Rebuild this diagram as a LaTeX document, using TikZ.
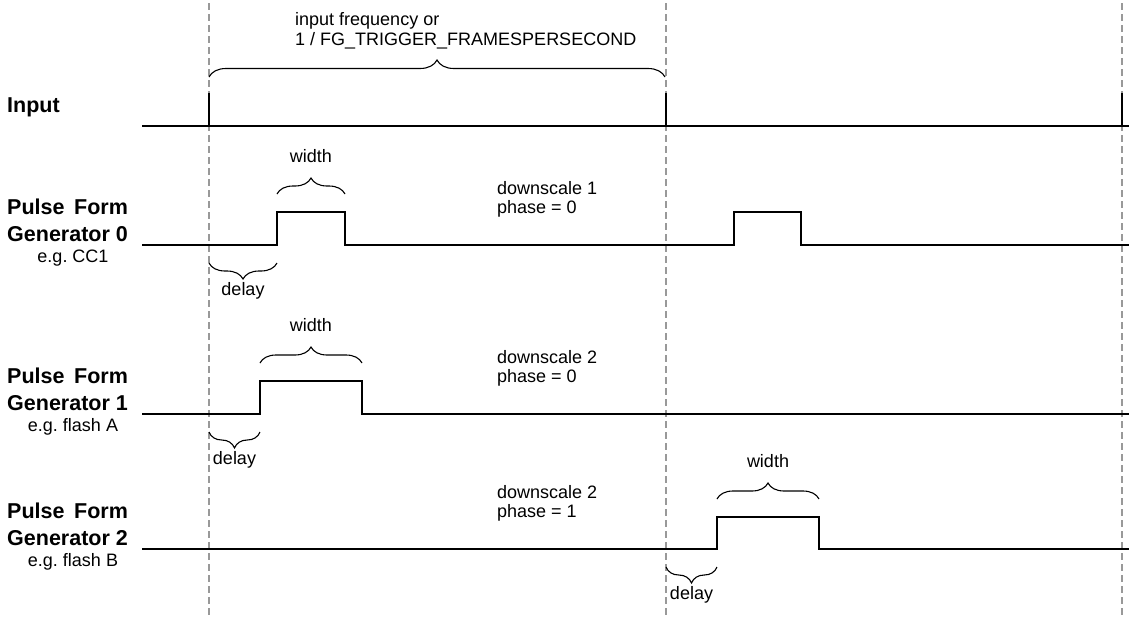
\documentclass[tikz,border=0pt]{standalone}
\usepackage{fontspec}
\setmainfont{Liberation Sans}
\usepackage{calc}
\usetikzlibrary{decorations.pathreplacing}
\begin{document}
\begin{tikzpicture}[x=1pt,y=-1pt,
  sig/.style={line width=2.8pt, line join=miter},
  trig/.style={line width=2.3pt},
  guide/.style={draw=black!40, line width=1.8pt, dash pattern=on 7pt off 4pt},
  brc/.style={decorate, decoration={brace, amplitude=16pt}, line width=1.1pt},
  lbl/.style={font=\fontsize{18}{21}\selectfont, inner sep=0pt, anchor=base west},
  clbl/.style={font=\fontsize{18}{21}\selectfont, inner sep=0pt, anchor=base},
  blbl/.style={font=\bfseries\fontsize{21.5}{26}\selectfont, inner sep=0pt, anchor=base west},
]
\useasboundingbox (0,0) rectangle (1129,619);

% guide lines
\foreach \x/\n in {209/a,666/b,1122/c}{
  \coordinate (g\n t) at (\x,3);
  \coordinate (g\n b) at (\x,617);
  \draw[guide] (g\n t) -- (g\n b);
}

% top annotation
\node[lbl] (freq1) at (295,25) {input frequency or};
\node[lbl] (freq2) at (295,45.5) {1 / FG\_TRIGGER\_FRAMESPERSECOND};
\coordinate (tbL) at (209,77);
\coordinate (tbR) at (665,77);
\draw[brc, decoration={amplitude=17pt}] (tbL) -- (tbR);

% Input
\node[blbl] (lin) at (7,112.5) {Input};
\draw[sig] (142,126) -- (1129,126);
\foreach \x in {209,666,1122}{
  \draw[trig] (\x,126) -- (\x,93);
}

% PFG 0 (B=245, T=212)
\node[blbl] (l0a) at (7,214.7) {\makebox[\widthof{Generator 0}][s]{Pulse Form}};
\node[blbl] (l0b) at (7,241.7) {Generator 0};
\node[clbl] (l0c) at (73,262.5) {e.g.\ CC1};
\draw[sig] (142,245) -- (277,245) -- (277,212) -- (345,212) -- (345,245)
  -- (734,245) -- (734,212) -- (801,212) -- (801,245) -- (1129,245);
\coordinate (w0L) at (277,194); \coordinate (w0R) at (345,194);
\draw[brc] (w0L) -- (w0R);
\node[clbl] (w0t) at (311,162.5) {width};
\coordinate (d0L) at (209,263); \coordinate (d0R) at (277,263);
\draw[brc] (d0R) -- (d0L);
\node[clbl] (d0t) at (243,295.7) {delay};
\node[lbl] (s0a) at (497,194.5) {downscale 1};
\node[lbl] (s0b) at (497,213.7) {phase = 0};

% PFG 1 (B=414, T=381)
\node[blbl] (l1a) at (7,383.7) {\makebox[\widthof{Generator 1}][s]{Pulse Form}};
\node[blbl] (l1b) at (7,410.7) {Generator 1};
\node[clbl] (l1c) at (73,431.5) {e.g.\ flash A};
\draw[sig] (142,414) -- (260,414) -- (260,381) -- (362,381) -- (362,414) -- (1129,414);
\coordinate (w1L) at (260,363); \coordinate (w1R) at (362,363);
\draw[brc] (w1L) -- (w1R);
\node[clbl] (w1t) at (311,331.5) {width};
\coordinate (d1L) at (209,432); \coordinate (d1R) at (260,432);
\draw[brc] (d1R) -- (d1L);
\node[clbl] (d1t) at (234.5,464.7) {delay};
\node[lbl] (s1a) at (497,363.5) {downscale 2};
\node[lbl] (s1b) at (497,382.7) {phase = 0};

% PFG 2 (B=549, T=517)
\node[blbl] (l2a) at (7,518.7) {\makebox[\widthof{Generator 2}][s]{Pulse Form}};
\node[blbl] (l2b) at (7,545.7) {Generator 2};
\node[clbl] (l2c) at (73,566.5) {e.g.\ flash B};
\draw[sig] (142,549) -- (717,549) -- (717,517) -- (819,517) -- (819,549) -- (1129,549);
\coordinate (w2L) at (717,499); \coordinate (w2R) at (819,499);
\draw[brc] (w2L) -- (w2R);
\node[clbl] (w2t) at (768,467.5) {width};
\coordinate (d2L) at (666,567); \coordinate (d2R) at (717,567);
\draw[brc] (d2R) -- (d2L);
\node[clbl] (d2t) at (691.5,599.7) {delay};
\node[lbl] (s2a) at (497,498.5) {downscale 2};
\node[lbl] (s2b) at (497,517.7) {phase = 1};
\end{tikzpicture}
\end{document}
